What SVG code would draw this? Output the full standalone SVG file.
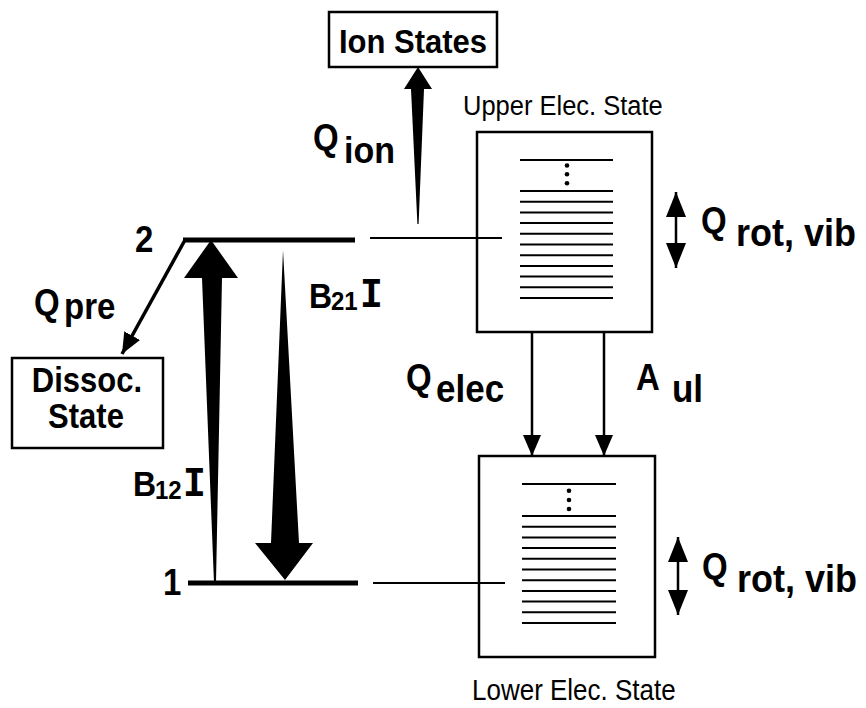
<svg xmlns="http://www.w3.org/2000/svg" width="866" height="708" viewBox="0 0 866 708">
<style>
.box{fill:none;stroke:#000;stroke-width:2.5}
.ln{stroke:#000;stroke-width:2;fill:none}
.thin{stroke:#000;stroke-width:2;fill:none}
.lvl{stroke:#000;stroke-width:5;fill:none}
.b{font-family:"Liberation Sans",Arial,Helvetica,sans-serif;font-weight:bold;fill:#000}
.r{font-family:"Liberation Sans",Arial,Helvetica,sans-serif;font-weight:normal;fill:#000}
.mono{font-family:"Liberation Mono","Courier New",monospace;font-weight:bold;fill:#000}
.fill{fill:#000;stroke:none}
</style>
<defs>
<marker id="ah" markerUnits="userSpaceOnUse" markerWidth="22" markerHeight="20" refX="21" refY="9" orient="auto">
<path d="M0,0 L21,9 L0,18 z" fill="#000"/>
</marker>
<marker id="dh" markerUnits="userSpaceOnUse" markerWidth="26" markerHeight="22" refX="25" refY="10" orient="auto-start-reverse">
<path d="M0,0 L25,10 L0,20 z" fill="#000"/>
</marker>
</defs>
<rect width="866" height="708" fill="#fff"/>

<g id="ion-states">
<rect class="box" x="329" y="12" width="168" height="55"/>
<text class="b" transform="translate(413,53) scale(1,1.08)" font-size="31" text-anchor="middle">Ion States</text>
</g>

<g id="dissoc-state">
<rect class="box" x="12" y="358" width="151" height="90"/>
<text class="b" transform="translate(87,392) scale(1,1.12)" font-size="31" text-anchor="middle">Dissoc.</text>
<text class="b" transform="translate(86,428) scale(1,1.12)" font-size="31" text-anchor="middle">State</text>
</g>

<g id="level-2">
<line class="lvl" x1="183" y1="240" x2="355" y2="240"/>
<text class="b" transform="translate(135,252) scale(1,1.12)" font-size="33">2</text>
</g>

<g id="level-1">
<line class="lvl" x1="188" y1="583" x2="358" y2="583"/>
<text class="b" transform="translate(163,595) scale(1,1.12)" font-size="33">1</text>
</g>

<g id="upper-state">
<text class="r" transform="translate(463,115) scale(1,1.05)" font-size="25.5">Upper Elec. State</text>
<rect class="box" x="477" y="132" width="175" height="200"/>
<g class="ln">
<line x1="520" y1="160" x2="613" y2="160"/>
<line x1="520" y1="191" x2="613" y2="191"/>
<line x1="520" y1="201.7" x2="613" y2="201.7"/>
<line x1="520" y1="212.4" x2="613" y2="212.4"/>
<line x1="520" y1="223.1" x2="613" y2="223.1"/>
<line x1="520" y1="233.8" x2="613" y2="233.8"/>
<line x1="520" y1="244.5" x2="613" y2="244.5"/>
<line x1="520" y1="255.2" x2="613" y2="255.2"/>
<line x1="520" y1="265.9" x2="613" y2="265.9"/>
<line x1="520" y1="276.6" x2="613" y2="276.6"/>
<line x1="520" y1="287.3" x2="613" y2="287.3"/>
<line x1="520" y1="298" x2="613" y2="298"/>
</g>
<circle class="fill" cx="567" cy="165.5" r="2.3"/>
<circle class="fill" cx="567" cy="174.3" r="2.3"/>
<circle class="fill" cx="567" cy="183.2" r="2.3"/>
</g>

<g id="lower-state">
<rect class="box" x="479" y="456" width="176" height="201"/>
<g class="ln">
<line x1="522" y1="484" x2="616" y2="484"/>
<line x1="522" y1="516" x2="616" y2="516"/>
<line x1="522" y1="526.7" x2="616" y2="526.7"/>
<line x1="522" y1="537.4" x2="616" y2="537.4"/>
<line x1="522" y1="548.1" x2="616" y2="548.1"/>
<line x1="522" y1="558.8" x2="616" y2="558.8"/>
<line x1="522" y1="569.5" x2="616" y2="569.5"/>
<line x1="522" y1="580.2" x2="616" y2="580.2"/>
<line x1="522" y1="590.9" x2="616" y2="590.9"/>
<line x1="522" y1="601.6" x2="616" y2="601.6"/>
<line x1="522" y1="612.3" x2="616" y2="612.3"/>
<line x1="522" y1="623" x2="616" y2="623"/>
</g>
<circle class="fill" cx="569" cy="490.7" r="2.3"/>
<circle class="fill" cx="569" cy="500" r="2.3"/>
<circle class="fill" cx="569" cy="509" r="2.3"/>
<text class="r" transform="translate(472,700) scale(1,1.12)" font-size="26">Lower Elec. State</text>
</g>

<g id="connectors">
<line class="thin" x1="370" y1="238" x2="502" y2="238"/>
<line class="thin" x1="373" y1="583" x2="505" y2="583"/>
<path class="fill" d="M418,67 L432,89 L424,89 L418.6,224 L417.4,224 L411,89 L404,89 z"/>
<line stroke="#000" stroke-width="3.5" x1="185" y1="240" x2="122" y2="354" marker-end="url(#ah)"/>
<path class="fill" d="M211,240 L238,278 L222,278 L216,583 L214,583 L202,278 L184,278 z"/>
<path class="fill" d="M283,250 L299,543 L313,543 L285,580 L255,543 L271,543 z"/>
<line stroke="#000" stroke-width="2.5" x1="532" y1="333" x2="532" y2="456" marker-end="url(#ah)"/>
<line stroke="#000" stroke-width="2.5" x1="604" y1="333" x2="604" y2="456" marker-end="url(#ah)"/>
<line stroke="#000" stroke-width="2.5" x1="676" y1="192" x2="676" y2="268" marker-start="url(#dh)" marker-end="url(#dh)"/>
<line stroke="#000" stroke-width="2.5" x1="678" y1="537" x2="678" y2="615" marker-start="url(#dh)" marker-end="url(#dh)"/>
</g>

<g id="labels">
<text class="b" transform="translate(313,150) scale(1,1.1)" font-size="33">Q</text>
<text class="b" transform="translate(344,163) scale(1,1.1)" font-size="34">ion</text>
<text class="b" transform="translate(34,315) scale(1,1.1)" font-size="33">Q</text>
<text class="b" transform="translate(64,319) scale(1,1.1)" font-size="33">pre</text>
<text class="b" transform="translate(309,308) scale(1,1.12)" font-size="32">B</text>
<text class="b" transform="translate(331,310) scale(1,1.1)" font-size="24">21</text>
<text class="mono" transform="translate(360,307) scale(1,1.12)" font-size="38">I</text>
<text class="b" transform="translate(133,496) scale(1,1.12)" font-size="32">B</text>
<text class="b" transform="translate(155,499) scale(1,1.1)" font-size="24">12</text>
<text class="mono" transform="translate(183,496) scale(1,1.12)" font-size="38">I</text>
<text class="b" transform="translate(406,390) scale(1,1.1)" font-size="33">Q</text>
<text class="b" transform="translate(436,402) scale(1,1.1)" font-size="35">elec</text>
<text class="b" transform="translate(636,390) scale(1,1.1)" font-size="33">A</text>
<text class="b" transform="translate(672,402) scale(1,1.1)" font-size="35">ul</text>
<text class="b" transform="translate(701,233) scale(1,1.1)" font-size="33">Q</text>
<text class="b" transform="translate(736,246) scale(1,1.1)" font-size="36">rot, vib</text>
<text class="b" transform="translate(702,579) scale(1,1.1)" font-size="33">Q</text>
<text class="b" transform="translate(737,592) scale(1,1.1)" font-size="36">rot, vib</text>
</g>
</svg>
